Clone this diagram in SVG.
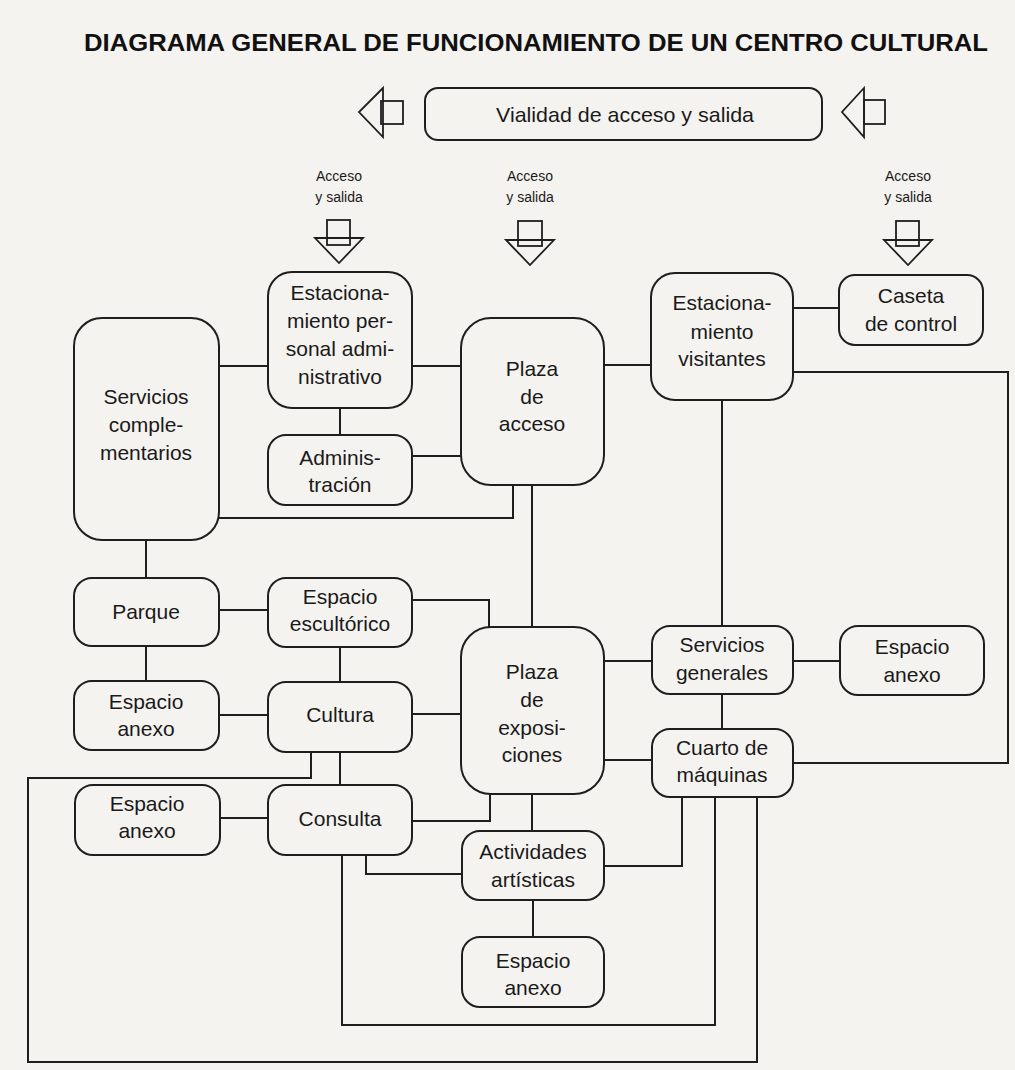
<svg xmlns="http://www.w3.org/2000/svg" width="1015" height="1070" viewBox="0 0 1015 1070">
<style>
.bg{fill:#f5f3f0}
.box{fill:#f5f3f0;stroke:#1e1e1e;stroke-width:2}
.ln{fill:none;stroke:#1e1e1e;stroke-width:2}
.ar{fill:none;stroke:#1e1e1e;stroke-width:1.8}
.t{font-family:"Liberation Sans",Arial,sans-serif;font-size:21px;fill:#1a1a1a;text-anchor:middle}
.s{font-family:"Liberation Sans",Arial,sans-serif;font-size:14px;fill:#1a1a1a;text-anchor:middle}
.title{font-family:"Liberation Sans",Arial,sans-serif;font-size:24px;font-weight:bold;fill:#111;text-anchor:middle}
</style>
<rect class="bg" x="0" y="0" width="1015" height="1070"/>
<text class="title" x="536" y="51" textLength="904" lengthAdjust="spacingAndGlyphs">DIAGRAMA GENERAL DE FUNCIONAMIENTO DE UN CENTRO CULTURAL</text>

<g id="vialidad">
<rect class="box" x="425" y="88" width="397" height="52" rx="13"/>
<text class="t" x="625" y="122" textLength="258" lengthAdjust="spacingAndGlyphs">Vialidad de acceso y salida</text>
</g>
<g id="arrow-left">
<polygon class="ar" points="383,88 359,112 383,137"/>
<rect class="ar" x="381" y="101" width="22" height="23"/>
</g>
<g id="arrow-right">
<polygon class="ar" points="864,88 842,112 864,137"/>
<rect class="ar" x="864" y="100" width="21" height="24"/>
</g>

<g id="acceso1">
<text class="s" x="339" y="181">Acceso</text>
<text class="s" x="339" y="202">y salida</text>
<polygon class="ar" points="315,238 363,238 339,263"/>
<rect class="ar" x="327" y="220" width="23" height="25"/>
</g>
<g id="acceso2">
<text class="s" x="530" y="181">Acceso</text>
<text class="s" x="530" y="202">y salida</text>
<polygon class="ar" points="506,240 554,240 530,265"/>
<rect class="ar" x="518" y="221" width="24" height="25"/>
</g>
<g id="acceso3">
<text class="s" x="908" y="181">Acceso</text>
<text class="s" x="908" y="202">y salida</text>
<polygon class="ar" points="884,240 932,240 908,265"/>
<rect class="ar" x="896" y="221" width="23" height="25"/>
</g>

<g id="connectors">
<line class="ln" x1="219" y1="366" x2="268" y2="366"/>
<line class="ln" x1="412" y1="366" x2="461" y2="366"/>
<line class="ln" x1="340" y1="408" x2="340" y2="435"/>
<line class="ln" x1="412" y1="456" x2="461" y2="456"/>
<polyline class="ln" points="219,518 513,518 513,485"/>
<line class="ln" x1="532" y1="485" x2="532" y2="627"/>
<line class="ln" x1="604" y1="365" x2="651" y2="365"/>
<line class="ln" x1="793" y1="308" x2="839" y2="308"/>
<polyline class="ln" points="793,372 1008,372 1008,763 793,763"/>
<line class="ln" x1="722" y1="400" x2="722" y2="626"/>
<line class="ln" x1="146" y1="540" x2="146" y2="578"/>
<line class="ln" x1="219" y1="610" x2="268" y2="610"/>
<polyline class="ln" points="412,600 489,600 489,627"/>
<line class="ln" x1="340" y1="647" x2="340" y2="682"/>
<line class="ln" x1="146" y1="646" x2="146" y2="681"/>
<line class="ln" x1="219" y1="715" x2="268" y2="715"/>
<line class="ln" x1="412" y1="714" x2="461" y2="714"/>
<polyline class="ln" points="311,752 311,778 28,778 28,1062 757,1062 757,797"/>
<line class="ln" x1="340" y1="752" x2="340" y2="785"/>
<line class="ln" x1="220" y1="818" x2="268" y2="818"/>
<polyline class="ln" points="412,821 490,821 490,794"/>
<line class="ln" x1="532" y1="794" x2="532" y2="831"/>
<line class="ln" x1="533" y1="900" x2="533" y2="937"/>
<polyline class="ln" points="342,855 342,1025 715,1025 715,797"/>
<polyline class="ln" points="366,855 366,874 462,874"/>
<polyline class="ln" points="604,866 682,866 682,797"/>
<line class="ln" x1="604" y1="661" x2="652" y2="661"/>
<line class="ln" x1="604" y1="760" x2="652" y2="760"/>
<line class="ln" x1="722" y1="694" x2="722" y2="729"/>
<line class="ln" x1="793" y1="661" x2="840" y2="661"/>
</g>

<g id="est-personal">
<rect class="box" x="268" y="272" width="144" height="136" rx="24"/>
<text class="t" x="340" y="300">Estaciona-</text>
<text class="t" x="340" y="328">miento per-</text>
<text class="t" x="340" y="356">sonal admi-</text>
<text class="t" x="340" y="384">nistrativo</text>
</g>
<g id="serv-compl">
<rect class="box" x="74" y="318" width="145" height="222" rx="28"/>
<text class="t" x="146" y="404">Servicios</text>
<text class="t" x="146" y="432">comple-</text>
<text class="t" x="146" y="460">mentarios</text>
</g>
<g id="admin">
<rect class="box" x="268" y="435" width="144" height="70" rx="18"/>
<text class="t" x="340" y="465">Adminis-</text>
<text class="t" x="340" y="492">tración</text>
</g>
<g id="plaza-acceso">
<rect class="box" x="461" y="318" width="143" height="167" rx="30"/>
<text class="t" x="532" y="376">Plaza</text>
<text class="t" x="532" y="404">de</text>
<text class="t" x="532" y="431">acceso</text>
</g>
<g id="est-visitantes">
<rect class="box" x="651" y="273" width="142" height="127" rx="24"/>
<text class="t" x="722" y="310">Estaciona-</text>
<text class="t" x="722" y="339">miento</text>
<text class="t" x="722" y="366">visitantes</text>
</g>
<g id="caseta">
<rect class="box" x="839" y="275" width="144" height="70" rx="16"/>
<text class="t" x="911" y="303">Caseta</text>
<text class="t" x="911" y="331">de control</text>
</g>
<g id="parque">
<rect class="box" x="74" y="578" width="145" height="68" rx="18"/>
<text class="t" x="146" y="619">Parque</text>
</g>
<g id="esp-escult">
<rect class="box" x="268" y="578" width="144" height="69" rx="18"/>
<text class="t" x="340" y="604">Espacio</text>
<text class="t" x="340" y="631">escultórico</text>
</g>
<g id="anexo-1">
<rect class="box" x="74" y="681" width="145" height="69" rx="18"/>
<text class="t" x="146" y="709">Espacio</text>
<text class="t" x="146" y="736">anexo</text>
</g>
<g id="cultura">
<rect class="box" x="268" y="682" width="144" height="70" rx="18"/>
<text class="t" x="340" y="722">Cultura</text>
</g>
<g id="plaza-expo">
<rect class="box" x="461" y="627" width="143" height="167" rx="30"/>
<text class="t" x="532" y="679">Plaza</text>
<text class="t" x="532" y="707">de</text>
<text class="t" x="532" y="735">exposi-</text>
<text class="t" x="532" y="762">ciones</text>
</g>
<g id="serv-gen">
<rect class="box" x="652" y="626" width="141" height="68" rx="18"/>
<text class="t" x="722" y="652">Servicios</text>
<text class="t" x="722" y="680">generales</text>
</g>
<g id="anexo-r">
<rect class="box" x="840" y="626" width="144" height="69" rx="18"/>
<text class="t" x="912" y="654">Espacio</text>
<text class="t" x="912" y="682">anexo</text>
</g>
<g id="cuarto">
<rect class="box" x="652" y="729" width="141" height="68" rx="18"/>
<text class="t" x="722" y="755">Cuarto de</text>
<text class="t" x="722" y="782">máquinas</text>
</g>
<g id="anexo-2">
<rect class="box" x="75" y="785" width="145" height="70" rx="18"/>
<text class="t" x="147" y="811">Espacio</text>
<text class="t" x="147" y="838">anexo</text>
</g>
<g id="consulta">
<rect class="box" x="268" y="785" width="144" height="70" rx="18"/>
<text class="t" x="340" y="826">Consulta</text>
</g>
<g id="actividades">
<rect class="box" x="462" y="831" width="142" height="69" rx="18"/>
<text class="t" x="533" y="859">Actividades</text>
<text class="t" x="533" y="887">artísticas</text>
</g>
<g id="anexo-3">
<rect class="box" x="462" y="937" width="142" height="70" rx="18"/>
<text class="t" x="533" y="968">Espacio</text>
<text class="t" x="533" y="995">anexo</text>
</g>
</svg>
